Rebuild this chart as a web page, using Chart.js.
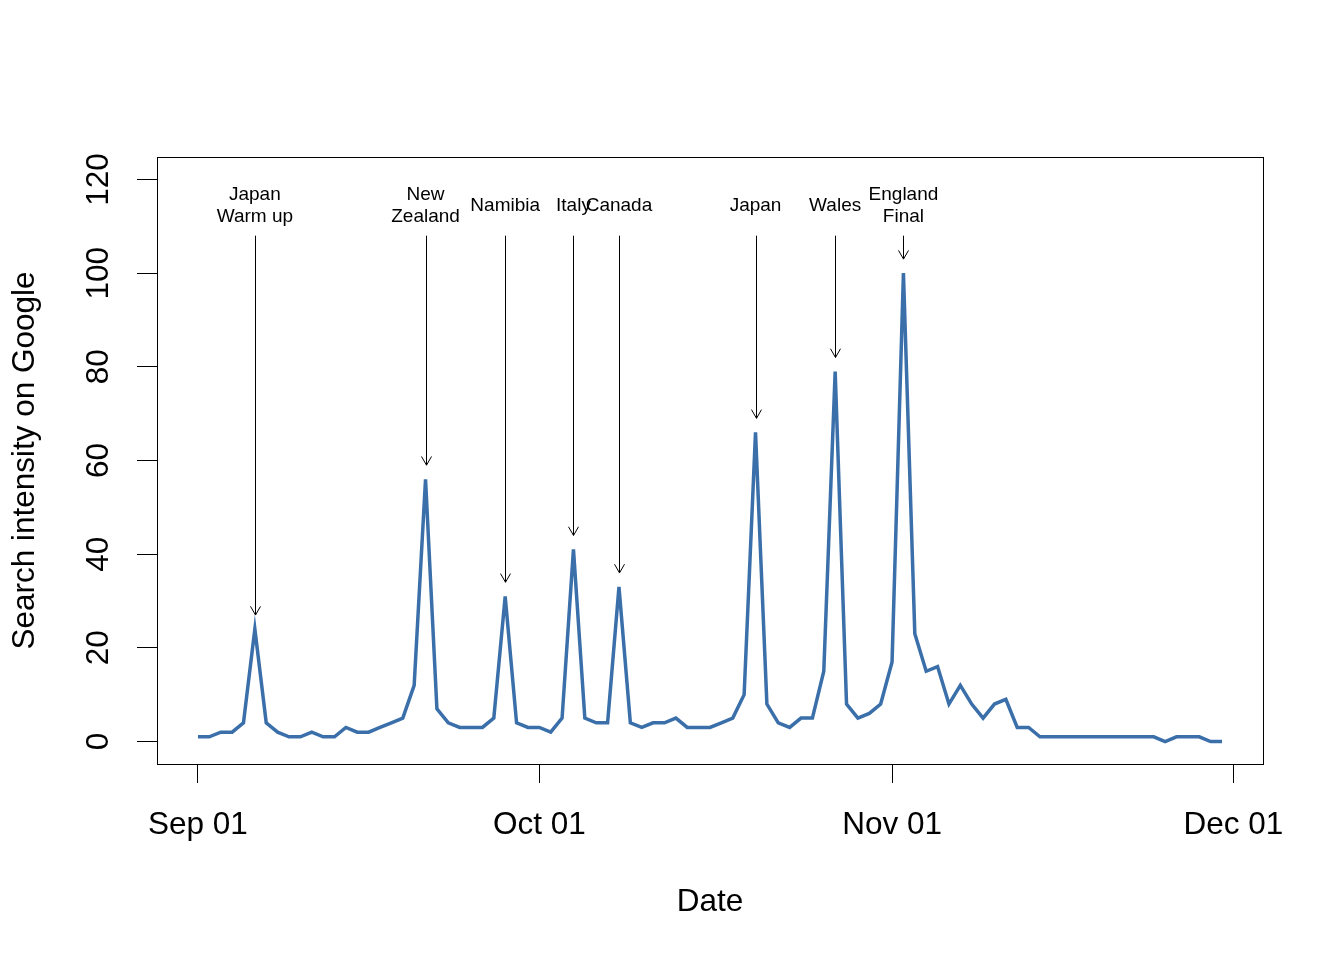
<!DOCTYPE html>
<html>
<head>
<meta charset="utf-8">
<script src="https://cdn.jsdelivr.net/npm/chart.js@4/dist/chart.umd.min.js"></script>
<style>
  html, body { margin: 0; padding: 0; background: #fff; }
  #wrap { width: 1344px; height: 960px; }
</style>
</head>
<body>
<div id="wrap"><canvas id="searchChart" width="1344" height="960"></canvas></div>
<script>
// daily search intensity, Sep 01 .. Nov 30 (day 0 = Sep 01)
const intensity = [
  1, 1, 2, 2, 4, 24, 4, 2, 1, 1,
  2, 1, 1, 3, 2, 2, 3, 4, 5, 12,
  56, 7, 4, 3, 3, 3, 5, 31, 4, 3,
  3, 2, 5, 41, 5, 4, 4, 33, 4, 3,
  4, 4, 5, 3, 3, 3, 4, 5, 10, 66,
  8, 4, 3, 5, 5, 15, 79, 8, 5, 6,
  8, 17, 100, 23, 15, 16, 8, 12, 8, 5,
  8, 9, 3, 3, 1, 1, 1, 1, 1, 1,
  1, 1, 1, 1, 1, 0, 1, 1, 1, 0,
  0
];

const tickDays = [0, 30, 61, 91];
const tickLabels = ["Sep 01", "Oct 01", "Nov 01", "Dec 01"];
const yTicks = [0, 20, 40, 60, 80, 100, 120];

// match annotations
const matchDays = [5, 20, 27, 33, 37, 49, 56, 62];
const matchLabels = [
  ["Japan", "Warm up"], ["New", "Zealand"], ["Namibia"], ["Italy"],
  ["Canada"], ["Japan"], ["Wales"], ["England", "Final"]
];

const FONT = "'Liberation Sans', Arial, Helvetica, sans-serif";
const AXIS_SIZE = 31.5;

const boxAndArrows = {
  id: "boxAndArrows",
  afterDatasetsDraw(chart) {
    const { ctx, chartArea: a, scales: { x, y } } = chart;
    ctx.save();
    ctx.strokeStyle = "#000";
    ctx.lineWidth = 1;
    ctx.strokeRect(a.left + 0.5, a.top + 0.5, a.right - a.left, a.bottom - a.top);

    ctx.fillStyle = "#000";
    ctx.font = "19px " + FONT;
    ctx.textAlign = "center";
    ctx.textBaseline = "middle";
    matchDays.forEach((d, i) => {
      const px = Math.round(x.getPixelForValue(d)) + 0.5;
      const y0 = y.getPixelForValue(108);
      const y1 = y.getPixelForValue(intensity[d] + 3);
      ctx.beginPath();
      ctx.moveTo(px, y0);
      ctx.lineTo(px, y1);
      ctx.moveTo(px - 5, y1 - 8.7);
      ctx.lineTo(px, y1);
      ctx.lineTo(px + 5, y1 - 8.7);
      ctx.stroke();

      const lines = matchLabels[i];
      const yc = y.getPixelForValue(114.35);
      lines.forEach((t, k) => {
        ctx.fillText(t, x.getPixelForValue(d), yc + (k - (lines.length - 1) / 2) * 22);
      });
    });
    ctx.restore();
  }
};

new Chart(document.getElementById("searchChart"), {
  type: "line",
  data: {
    datasets: [{
      data: intensity.map((v, i) => ({ x: i, y: v })),
      borderColor: "#3a6faa",
      borderWidth: 3.5,
      pointRadius: 0,
      tension: 0,
      fill: false
    }]
  },
  options: {
    responsive: false,
    animation: false,
    layout: { padding: { top: 157, right: 81, left: 0, bottom: 0 } },
    plugins: { legend: { display: false }, tooltip: { enabled: false } },
    scales: {
      x: {
        type: "linear",
        min: -3.6,
        max: 93.6,
        afterBuildTicks: (s) => { s.ticks = tickDays.map((v) => ({ value: v })); },
        afterFit: (s) => { s.height = 196; },
        grid: { drawOnChartArea: false, drawTicks: true, tickLength: 19, color: "#000", lineWidth: 1 },
        border: { display: false },
        ticks: {
          color: "#000",
          font: { family: FONT, size: AXIS_SIZE },
          padding: 23,
          autoSkip: false,
          maxRotation: 0,
          callback: (v) => tickLabels[tickDays.indexOf(v)]
        },
        title: {
          display: true,
          text: "Date",
          color: "#000",
          font: { family: FONT, size: AXIS_SIZE },
          padding: { top: 0, bottom: 39 }
        }
      },
      y: {
        min: -4.8,
        max: 124.8,
        afterBuildTicks: (s) => { s.ticks = yTicks.map((v) => ({ value: v })); },
        afterFit: (s) => { s.width = 157; },
        grid: { drawOnChartArea: false, drawTicks: true, tickLength: 20, color: "#000", lineWidth: 1 },
        border: { display: false },
        ticks: {
          color: "#000",
          font: { family: FONT, size: AXIS_SIZE },
          padding: 11,
          minRotation: 90,
          maxRotation: 90,
          crossAlign: "center"
        },
        title: {
          display: true,
          text: "Search intensity on Google",
          color: "#000",
          font: { family: FONT, size: AXIS_SIZE },
          padding: { top: 6, bottom: 0 }
        }
      }
    }
  },
  plugins: [boxAndArrows]
});
</script>
</body>
</html>
